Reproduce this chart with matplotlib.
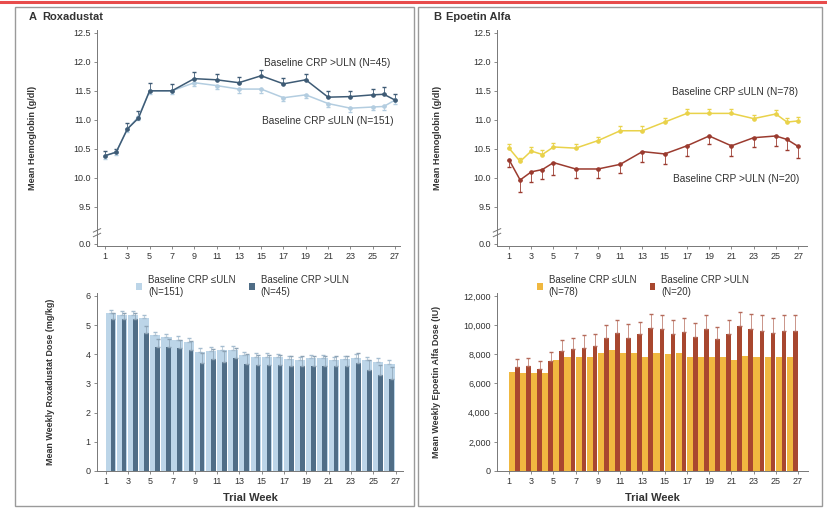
import numpy as np
import matplotlib
matplotlib.use("Agg")
import matplotlib.pyplot as plt
from matplotlib.patches import Rectangle
from matplotlib.lines import Line2D

plt.rcParams['font.family'] = ['Liberation Sans', 'DejaVu Sans']

# hemoglobin curves (weeks with a measurement)
hb_weeks = [1, 2, 3, 4, 5, 7, 9, 11, 13, 15, 17, 19, 21, 23, 25, 26, 27]

roxa_hb_high = [10.38, 10.44, 10.84, 11.03, 11.50, 11.50, 11.71, 11.69, 11.64, 11.76, 11.62, 11.69, 11.39, 11.40, 11.43, 11.44, 11.34]
roxa_hb_high_err = [0.08, 0.06, 0.10, 0.12, 0.14, 0.12, 0.12, 0.10, 0.10, 0.10, 0.10, 0.10, 0.10, 0.10, 0.10, 0.12, 0.10]
roxa_hb_low = [10.38, 10.44, 10.84, 11.05, 11.50, 11.50, 11.64, 11.59, 11.53, 11.53, 11.38, 11.43, 11.28, 11.20, 11.22, 11.23, 11.34]
roxa_hb_low_err = [0.05, 0.05, 0.06, 0.06, 0.06, 0.06, 0.06, 0.06, 0.06, 0.06, 0.06, 0.06, 0.06, 0.06, 0.06, 0.06, 0.06]

epo_hb_low = [10.51, 10.28, 10.46, 10.40, 10.53, 10.51, 10.64, 10.81, 10.81, 10.96, 11.11, 11.11, 11.11, 11.02, 11.10, 10.96, 10.98]
epo_hb_low_err = [0.07, 0.06, 0.07, 0.07, 0.07, 0.07, 0.07, 0.08, 0.08, 0.07, 0.08, 0.07, 0.07, 0.07, 0.07, 0.07, 0.07]
epo_hb_high = [10.31, 9.96, 10.10, 10.14, 10.26, 10.15, 10.15, 10.23, 10.45, 10.41, 10.55, 10.72, 10.55, 10.69, 10.72, 10.66, 10.54]
epo_hb_high_err = [0.12, 0.20, 0.18, 0.16, 0.22, 0.15, 0.15, 0.15, 0.18, 0.17, 0.18, 0.14, 0.17, 0.16, 0.18, 0.18, 0.20]

# weekly dose bars
dose_weeks = list(range(1, 27))

roxa_dose_low = [5.40, 5.35, 5.35, 5.23, 4.66, 4.58, 4.49, 4.43, 4.09, 4.12, 4.15, 4.15, 3.97, 3.92, 3.92, 3.90, 3.83, 3.80, 3.86, 3.86, 3.80, 3.83, 3.88, 3.80, 3.75, 3.67]
roxa_dose_low_err = [0.12] * 26
roxa_dose_high = [5.22, 5.22, 5.22, 4.72, 4.24, 4.24, 4.20, 4.15, 3.69, 3.83, 3.75, 3.88, 3.67, 3.63, 3.63, 3.63, 3.60, 3.60, 3.60, 3.60, 3.60, 3.60, 3.71, 3.46, 3.29, 3.15]
roxa_dose_high_err = [0.20, 0.20, 0.20, 0.25, 0.30, 0.30, 0.30, 0.30, 0.35, 0.35, 0.35, 0.35, 0.35, 0.35, 0.35, 0.35, 0.35, 0.35, 0.35, 0.35, 0.35, 0.35, 0.35, 0.35, 0.35, 0.40]

epo_dose_low = [6800, 6740, 6740, 6690, 7610, 7840, 7840, 7840, 8060, 8290, 8060, 8110, 7840, 8060, 8020, 8060, 7840, 7790, 7840, 7840, 7610, 7880, 7790, 7840, 7790, 7790]
epo_dose_high = [7150, 7190, 6990, 7540, 8250, 8340, 8450, 8570, 9140, 9490, 9140, 9390, 9780, 9710, 9390, 9510, 9210, 9710, 9030, 9390, 9970, 9710, 9620, 9440, 9620, 9620]
epo_dose_high_err = [550, 550, 550, 600, 750, 800, 850, 850, 850, 850, 950, 850, 950, 950, 950, 950, 950, 950, 850, 950, 950, 1050, 1050, 1050, 1100, 1100]

week_ticks = list(range(1, 28, 2))
hb_ticks = [8.86, 9.5, 10.0, 10.5, 11.0, 11.5, 12.0, 12.5]
hb_ticklabels = ['0.0', '9.5', '10.0', '10.5', '11.0', '11.5', '12.0', '12.5']

TXT = '#333333'
ROXA_DARK = '#3e5b75'
ROXA_LIGHT = '#b3cde0'
ROXA_BAR_DARK = '#4f6d86'
ROXA_BAR_LIGHT = '#bcd5e8'
EPO_YEL = '#e9d24a'
EPO_RED = '#9b3b2f'
EPO_BAR_YEL = '#f0b840'
EPO_BAR_RED = '#a8472f'

fig = plt.figure(figsize=(8.27, 5.13), dpi=100)
W, H = 827.0, 513.0


def px_axes(x0, y0, x1, y1):
    return fig.add_axes([x0 / W, 1 - y1 / H, (x1 - x0) / W, (y1 - y0) / H])


def style(ax):
    for s in ['top', 'right']:
        ax.spines[s].set_visible(False)
    for s in ['left', 'bottom']:
        ax.spines[s].set_color('#777777')
        ax.spines[s].set_linewidth(0.7)
    ax.tick_params(labelsize=6.5, colors='#777777', labelcolor=TXT, length=2.5, width=0.6, pad=2)


def break_marks(ax, y):
    for dy in (-0.04, 0.04):
        ax.plot([-0.012, 0.012], [y + dy - 0.03, y + dy + 0.03], color='#777777', lw=0.7,
                transform=ax.get_yaxis_transform(), clip_on=False)


def legend(ax):
    ax.legend(loc='lower left', bbox_to_anchor=(0.1, 0.93), ncol=2, frameon=False, fontsize=7,
              handlelength=0.6, handleheight=0.6, columnspacing=1.4, handletextpad=0.6,
              labelcolor=TXT, alignment='left', labelspacing=0.2)


# frame decoration
fig.add_artist(Line2D([0, 1], [1 - 2 / H, 1 - 2 / H], color='#e84c4c', lw=2.2))
fig.add_artist(Rectangle((15 / W, 1 - 506 / H), (414 - 15) / W, (506 - 7) / H,
                         fill=False, ec='#9a9a9a', lw=1.0))
fig.add_artist(Rectangle((418 / W, 1 - 506 / H), (822 - 418) / W, (506 - 7) / H,
                         fill=False, ec='#9a9a9a', lw=1.0))
fig.text(29 / W, 1 - 17 / H, 'A', fontsize=8, fontweight='bold', color=TXT, va='center')
fig.text(42 / W, 1 - 17 / H, 'Roxadustat', fontsize=8, fontweight='bold', color=TXT, va='center')
fig.text(433 / W, 1 - 17 / H, 'B', fontsize=8, fontweight='bold', color=TXT, va='center')
fig.text(446 / W, 1 - 17 / H, 'Epoetin Alfa', fontsize=8, fontweight='bold', color=TXT, va='center')

# ---- A top: hemoglobin, roxadustat
ax = px_axes(97, 30, 400, 246)
style(ax)
ax.errorbar(hb_weeks, roxa_hb_low, yerr=[roxa_hb_low_err, np.zeros(len(hb_weeks))],
            color=ROXA_LIGHT, marker='o', ms=2.3, lw=1.1, elinewidth=0.6, capsize=1.2)
ax.errorbar(hb_weeks, roxa_hb_high, yerr=[np.zeros(len(hb_weeks)), roxa_hb_high_err],
            color=ROXA_DARK, marker='o', ms=2.3, lw=1.1, elinewidth=0.6, capsize=1.2)
ax.set_xlim(0.28, 27.45)
ax.set_ylim(8.82, 12.55)
ax.set_xticks(week_ticks)
ax.set_yticks(hb_ticks)
ax.set_yticklabels(hb_ticklabels)
break_marks(ax, 9.05)
ax.text(26.6, 11.98, 'Baseline CRP >ULN (N=45)', fontsize=7.3, color=TXT, ha='right', va='center')
ax.text(26.9, 10.98, 'Baseline CRP \u2264ULN (N=151)', fontsize=7.3, color=TXT, ha='right', va='center')
ax.set_ylabel('Mean Hemoglobin (g/dl)', fontsize=6.6, fontweight='bold', color=TXT)
ax.yaxis.set_label_coords(-0.198, 0.5)

# ---- B top: hemoglobin, epoetin alfa
ax = px_axes(497, 30, 807, 246)
style(ax)
ax.errorbar(hb_weeks, epo_hb_low, yerr=[np.zeros(len(hb_weeks)), epo_hb_low_err],
            color=EPO_YEL, marker='o', ms=2.3, lw=1.1, elinewidth=0.6, capsize=1.2)
ax.errorbar(hb_weeks, epo_hb_high, yerr=[epo_hb_high_err, np.zeros(len(hb_weeks))],
            color=EPO_RED, marker='o', ms=2.3, lw=1.1, elinewidth=0.6, capsize=1.2)
ax.set_xlim(-0.08, 27.8)
ax.set_ylim(8.82, 12.55)
ax.set_xticks(week_ticks)
ax.set_yticks(hb_ticks)
ax.set_yticklabels(hb_ticklabels)
break_marks(ax, 9.05)
ax.text(27.0, 11.48, 'Baseline CRP \u2264ULN (N=78)', fontsize=7.3, color=TXT, ha='right', va='center')
ax.text(27.1, 9.97, 'Baseline CRP >ULN (N=20)', fontsize=7.3, color=TXT, ha='right', va='center')
ax.set_ylabel('Mean Hemoglobin (g/dl)', fontsize=6.6, fontweight='bold', color=TXT)
ax.yaxis.set_label_coords(-0.177, 0.5)

# ---- A bottom: roxadustat dose
ax = px_axes(97, 293, 403, 471)
style(ax)
x = np.array(dose_weeks)
ax.bar(x + 0.45, roxa_dose_low, width=0.92, color=ROXA_BAR_LIGHT,
       yerr=[np.zeros(len(x)), roxa_dose_low_err], error_kw=dict(ecolor='#a6bdd0', elinewidth=0.5, capsize=1.2),
       label='Baseline CRP \u2264ULN\n(N=151)')
ax.bar(x + 0.65, roxa_dose_high, width=0.42, color=ROXA_BAR_DARK,
       yerr=[np.zeros(len(x)), roxa_dose_high_err], error_kw=dict(ecolor='#8da3b5', elinewidth=0.5, capsize=1.2),
       label='Baseline CRP >ULN\n(N=45)')
ax.set_xlim(0.22, 27.67)
ax.set_ylim(0, 6.1)
ax.set_xticks(week_ticks)
ax.set_yticks(range(0, 7))
ax.set_ylabel('Mean Weekly Roxadustat Dose (mg/kg)', fontsize=6.4, fontweight='bold', color=TXT)
ax.yaxis.set_label_coords(-0.137, 0.5)
ax.set_xlabel('Trial Week', fontsize=8, fontweight='bold', color=TXT, labelpad=5)
legend(ax)

# ---- B bottom: epoetin alfa dose
ax = px_axes(497, 293, 808, 471)
style(ax)
ax.bar(x + 0.45, epo_dose_low, width=0.92, color=EPO_BAR_YEL, label='Baseline CRP \u2264ULN\n(N=78)')
ax.bar(x + 0.75, epo_dose_high, width=0.42, color=EPO_BAR_RED,
       yerr=[np.zeros(len(x)), epo_dose_high_err], error_kw=dict(ecolor='#b56a5a', elinewidth=0.5, capsize=1.2),
       label='Baseline CRP >ULN\n(N=20)')
ax.set_xlim(-0.08, 27.9)
ax.set_ylim(0, 12200)
ax.set_xticks(week_ticks)
ax.set_yticks(range(0, 12001, 2000))
ax.set_yticklabels(['0'] + ['{:,}'.format(v) for v in range(2000, 12001, 2000)])
ax.set_ylabel('Mean Weekly Epoetin Alfa Dose (IU)', fontsize=6.4, fontweight='bold', color=TXT)
ax.yaxis.set_label_coords(-0.18, 0.5)
ax.set_xlabel('Trial Week', fontsize=8, fontweight='bold', color=TXT, labelpad=5)
legend(ax)

fig.savefig('out.png', dpi=100)
